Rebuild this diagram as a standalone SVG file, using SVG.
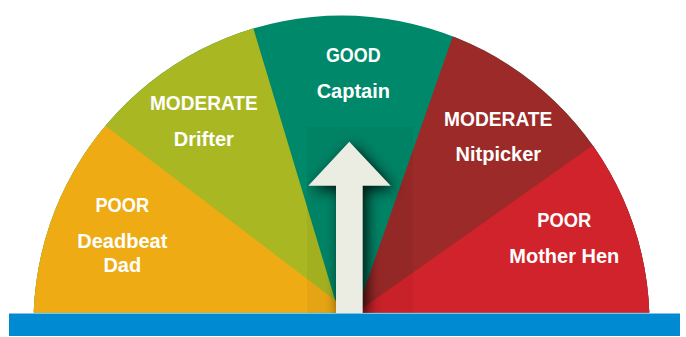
<svg xmlns="http://www.w3.org/2000/svg" width="686" height="337" viewBox="0 0 686 337">
  <defs>
    <style>
      .lbl { font-family: "Liberation Sans", Arial, sans-serif; font-weight: bold; font-size: 20px; fill: #ffffff; text-anchor: middle; }
      .arrow { fill: #ECEDE2; }
    </style>
    <!-- half-disc outline of the dial -->
    <clipPath id="dial">
      <path d="M33.7 312.5 A308 308 0 0 1 649.3 312.5 Z"/>
    </clipPath>
    <!-- box the pointer shadow is confined to -->
    <clipPath id="shadowBox">
      <rect x="307" y="127" width="106" height="186"/>
    </clipPath>
    <filter id="soft" x="-50%" y="-50%" width="200%" height="200%">
      <feGaussianBlur stdDeviation="7"/>
    </filter>
  </defs>

  <!-- dial segments -->
  <g clip-path="url(#dial)">
    <g id="good">
      <rect x="0" y="0" width="686" height="313" fill="#00886A"/>
      <text class="lbl" x="353.3" y="62.3" textLength="54.7" lengthAdjust="spacingAndGlyphs">GOOD</text>
      <text class="lbl" x="353.3" y="98.3">Captain</text>
    </g>
    <g id="moderate-drifter">
      <polygon points="0,-10 241.8,-10 339,313 0,313" fill="#A9B822"/>
      <text class="lbl" x="203.8" y="110" textLength="107.7" lengthAdjust="spacingAndGlyphs">MODERATE</text>
      <text class="lbl" x="203.8" y="145.5">Drifter</text>
    </g>
    <g id="poor-deadbeat">
      <polygon points="0,45.9 336,300.8 336,313 0,313" fill="#EEAB14"/>
      <text class="lbl" x="122.3" y="212.3" textLength="53.7" lengthAdjust="spacingAndGlyphs">POOR</text>
      <text class="lbl" x="122.3" y="247.7">Deadbeat</text>
      <text class="lbl" x="122.3" y="271.7">Dad</text>
    </g>
    <g id="moderate-nitpicker">
      <polygon points="469,-10 700,-10 700,313 356,313" fill="#9B2A28"/>
      <text class="lbl" x="498.2" y="126" textLength="108.3" lengthAdjust="spacingAndGlyphs">MODERATE</text>
      <text class="lbl" x="498.3" y="161">Nitpicker</text>
    </g>
    <g id="poor-motherhen">
      <polygon points="700,69.5 355,313.5 700,313.5" fill="#D1232B"/>
      <text class="lbl" x="564.3" y="227.3" textLength="54" lengthAdjust="spacingAndGlyphs">POOR</text>
      <text class="lbl" x="564.3" y="262.7">Mother Hen</text>
    </g>
  </g>

  <!-- pointer -->
  <g id="pointer">
    <g clip-path="url(#shadowBox)">
      <rect x="307" y="127" width="106" height="186" fill="#000" opacity="0.04"/>
      <path d="M349.3 141.7 L390.7 185.7 L362.7 185.7 L362.7 313 L336 313 L336 185.7 L308.3 185.7 Z" transform="translate(4 4)" fill="#000" opacity="0.85" filter="url(#soft)"/>
    </g>
    <path class="arrow" d="M349.3 141.7 L390.7 185.7 L362.7 185.7 L362.7 313 L336 313 L336 185.7 L308.3 185.7 Z"/>
  </g>

  <!-- base bar -->
  <g id="base">
    <rect x="9" y="313.5" width="671" height="22.5" fill="#008AD1"/>
  </g>
</svg>
